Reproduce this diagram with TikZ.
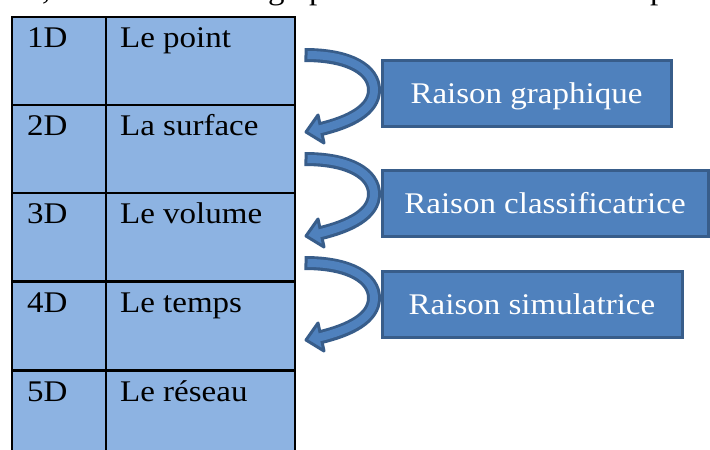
\documentclass[tikz,border=0pt]{standalone}
\usepackage{fontspec}
\setmainfont{Liberation Serif}[FakeStretch=1.1]
\definecolor{tabfill}{HTML}{8DB3E2}
\definecolor{boxfill}{HTML}{4F81BD}
\definecolor{boxline}{HTML}{385D8A}
\tikzset{
  cell/.style={draw=black, line width=2pt, fill=tabfill, minimum width=#1, minimum height=88pt, inner sep=0pt, anchor=north west},
  celltext/.style={anchor=base west, inner sep=0pt, font=\fontsize{30}{36}\selectfont},
  rbox/.style={draw=boxline, fill=boxfill, line width=3pt, text=white, inner sep=0pt,
     minimum height=66pt, text height=21pt, text depth=1pt, font=\fontsize{30}{36}\selectfont},
  frag/.style={anchor=base west, inner sep=0pt, font=\fontsize{30}{36}\selectfont},
}
\newcommand{\curvarrow}[1]{%
  \begin{scope}[yshift=-#1pt]
    \draw[boxline, line width=14pt, shorten <=-1.5pt]
      (306,55) .. controls (350,55) and (374,70) .. (374,90)
               .. controls (374,110) and (350,122) .. (321,129);
    \filldraw[fill=boxfill, draw=boxline, line width=3pt, line join=round]
      (306,132) -- (318,115) -- (324,143) -- cycle;
    \draw[boxfill, line width=8pt, shorten <=1.5pt, shorten >=-4pt]
      (306,55) .. controls (350,55) and (374,70) .. (374,90)
               .. controls (374,110) and (350,122) .. (321,129);
  \end{scope}}
\begin{document}
\begin{tikzpicture}[x=1pt,y=-1pt]
\clip (0,0) rectangle (710,450);
\fill[white] (0,0) rectangle (710,450);
% cropped line of text above
\node[frag] (f1) at (42,-1) {,};
\node[frag] (f2) at (268,-1) {g};
\node[frag] (f3) at (309,-1) {p};
\node[frag] (f4) at (650,-1) {p};
% table
\foreach \i/\y/\d/\t in {1/16/1D/Le point, 2/104/2D/La surface, 3/192/3D/Le volume, 4/281/4D/Le temps, 5/370/5D/Le réseau}{
  \node[cell=94pt] (a\i) at (11,\y) {};
  \node[cell=189pt] (b\i) at (105,\y) {};
  \node[celltext] (ta\i) at (27,\y+31) {\d};
  \node[celltext] (tb\i) at (120,\y+31) {\t};
}
\node[cell=94pt] (a6) at (11,458) {};
\node[cell=189pt] (b6) at (105,458) {};
% boxes
\node[rbox, minimum width=289pt] (r1) at (526.5,93) {Raison graphique};
\node[rbox, minimum width=326pt] (r2) at (545,203) {Raison classificatrice};
\node[rbox, minimum width=300pt] (r3) at (532,304) {Raison simulatrice};
% curved arrows
\curvarrow{0}
\curvarrow{104}
\curvarrow{208}
\end{tikzpicture}
\end{document}
